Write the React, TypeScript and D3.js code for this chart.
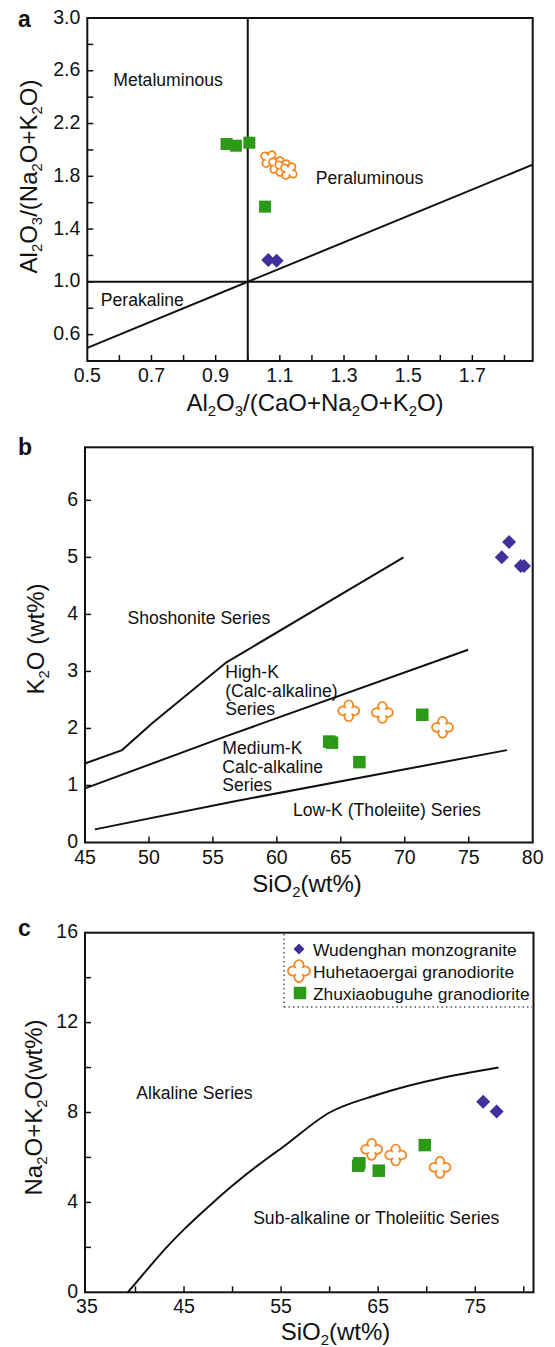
import React from "react";
import * as d3 from "d3";

const FONT = "'Liberation Sans', Arial, Helvetica, sans-serif";
const BLUE = "#41309c";
const ORANGE = "#f7861f";
const GREEN = "#2d9a17";

// ---- panel a : A/CNK vs A/NK ----
const aXTicks = [0.6, 0.7, 0.8, 0.9, 1.0, 1.1, 1.2, 1.3, 1.4, 1.5, 1.6, 1.7, 1.8];
const aXLabels = [0.5, 0.7, 0.9, 1.1, 1.3, 1.5, 1.7];
const aYTicks = [0.6, 0.8, 1.0, 1.2, 1.4, 1.6, 1.8, 2.0, 2.2, 2.4, 2.6, 2.8];
const aYLabels = [0.6, 1.0, 1.4, 1.8, 2.2, 2.6, 3.0];
const aBoundaries = [
  [[0.5, 0.5], [1.888, 1.888]],
  [[1.0, 0.4], [1.0, 3.0]],
  [[0.5, 1.0], [1.888, 1.0]],
];
const aWudenghan = [[1.064, 1.166], [1.09, 1.16]];
const aHuhetaoergai = [[1.066, 1.931], [1.091, 1.886], [1.11, 1.863], [1.128, 1.84]];
const aZhuxiao = [[0.934, 2.045], [0.963, 2.032], [1.005, 2.055], [1.054, 1.57]];
const aRegionLabels = [
  { text: "Metaluminous", x: 0.581, y: 2.485 },
  { text: "Peraluminous", x: 1.212, y: 1.742 },
  { text: "Perakaline", x: 0.542, y: 0.817 },
];

// ---- panel b : SiO2 vs K2O ----
const bXTicks = [50, 55, 60, 65, 70, 75];
const bXLabels = [45, 50, 55, 60, 65, 70, 75, 80];
const bYTicks = [1, 2, 3, 4, 5, 6];
const bYLabels = [0, 1, 2, 3, 4, 5, 6];
const bBoundaries = [
  [[45.05, 1.39], [47.9, 1.62], [50.25, 2.09], [56.06, 3.16], [69.9, 5.0]],
  [[45.0, 0.95], [56.0, 1.86], [74.95, 3.38]],
  [[45.77, 0.23], [56.62, 0.72], [77.99, 1.62]],
];
const bWudenghan = [[78.15, 5.27], [77.58, 5.0], [79.07, 4.85], [79.32, 4.85]];
const bHuhetaoergai = [[65.62, 2.31], [68.25, 2.28], [72.95, 2.02]];
const bZhuxiao = [[64.09, 1.77], [64.31, 1.75], [66.45, 1.41], [71.37, 2.24]];
const bRegionLabels = [
  { lines: ["Shoshonite Series"], x: 48.32, y: 3.83 },
  { lines: ["High-K", "(Calc-alkaline)", "Series"], x: 55.96, y: 2.88 },
  { lines: ["Medium-K", "Calc-alkaline", "Series"], x: 55.73, y: 1.55 },
  { lines: ["Low-K (Tholeiite) Series"], x: 61.26, y: 0.465 },
];

// ---- panel c : SiO2 vs Na2O+K2O ----
const cXTicks = [40, 45, 50, 55, 60, 65, 70, 75, 80];
const cXLabels = [35, 45, 55, 65, 75];
const cYTicks = [2, 4, 6, 8, 10, 12, 14];
const cYLabels = [0, 4, 8, 12, 16];
const cBoundary = [
  [39.2, 0], [40, 0.4], [43.2, 2], [45, 2.8], [48, 4], [50, 4.75],
  [53.7, 6], [55, 6.4], [60, 8], [65, 8.8], [77.4, 10],
];
const cWudenghan = [[75.82, 8.48], [77.2, 8.04]];
const cHuhetaoergai = [[64.33, 6.36], [66.81, 6.11], [71.37, 5.56]];
const cZhuxiao = [[62.94, 5.63], [63.06, 5.74], [65.06, 5.41], [69.8, 6.55]];
const cRegionLabels = [
  { text: "Alkaline Series", x: 40.08, y: 8.59 },
  { text: "Sub-alkaline or Tholeiitic Series", x: 52.12, y: 3.03 },
];
const legendNames = ["Wudenghan monzogranite", "Huhetaoergai granodiorite", "Zhuxiaobuguhe granodiorite"];

const aX = d3.scaleLinear().domain([0.5, 1.888]).range([87.3, 532.7]);
const aY = d3.scaleLinear().domain([0.4, 3.0]).range([361, 18]);
const bX = d3.scaleLinear().domain([45, 80]).range([85, 532.7]);
const bY = d3.scaleLinear().domain([0, 6.93]).range([842.5, 447.3]);
const cX = d3.scaleLinear().domain([34.8, 81]).range([85, 533.5]);
const cY = d3.scaleLinear().domain([0, 16]).range([1292.3, 932.7]);

// four-armed cross glyph: one arm, turned four times
const arm = [[-3, -3], [-6, -5], [-3.8, -10.5], [0, -10.5], [3.8, -10.5], [6, -5], [3, -3]];
const turn = (p, k) => {
  let [x, y] = p;
  for (let i = 0; i < k; i++) [x, y] = [-y, x];
  return `${x},${y}`;
};
const crossPath = (() => {
  let d = `M${turn(arm[0], 0)}`;
  for (let k = 0; k < 4; k++) {
    d += `C${turn(arm[1], k)} ${turn(arm[2], k)} ${turn(arm[3], k)}`;
    d += `C${turn(arm[4], k)} ${turn(arm[5], k)} ${turn(arm[6], k)}`;
  }
  return d + "Z";
})();

const Diamond = ({ x, y, s = 7 }) => (
  <path d={`M${x},${y - s}L${x + s},${y}L${x},${y + s}L${x - s},${y}Z`} fill={BLUE} />
);
const Square = ({ x, y, s = 12.5 }) => (
  <rect x={x - s / 2} y={y - s / 2} width={s} height={s} fill={GREEN} />
);
const Cross = ({ x, y, rot = 0, k = 1 }) => (
  <path d={crossPath} transform={`translate(${x},${y}) rotate(${rot}) scale(${k})`}
    fill="white" stroke={ORANGE} strokeWidth={1.7 / k} />
);

// digits become subscripts
function Formula({ text, size }) {
  const parts = text.split(/(\d)/).filter(Boolean);
  const shift = size * 0.22;
  let down = false;
  return (
    <>
      {parts.map((p, i) => {
        if (/\d/.test(p)) {
          down = true;
          return <tspan key={i} dy={shift} fontSize={size * 0.62}>{p}</tspan>;
        }
        const dy = down ? -shift : 0;
        down = false;
        return <tspan key={i} dy={dy}>{p}</tspan>;
      })}
    </>
  );
}

function Frame({ x, y, xTicks, xLabels, yTicks, yLabels, fmt, xTitle, yTitle, xTitlePos, yTitlePos, tag, tagY }) {
  const [x0, x1] = x.range();
  const [y0, y1] = y.range();
  return (
    <g fontFamily={FONT}>
      <rect x={x0} y={y1} width={x1 - x0} height={y0 - y1} fill="none" stroke="#111" strokeWidth={2} />
      {xTicks.map((t) => (
        <line key={"xt" + t} x1={x(t)} x2={x(t)} y1={y0} y2={y0 - 6} stroke="#111" strokeWidth={1.5} />
      ))}
      {yTicks.map((t) => (
        <line key={"yt" + t} x1={x0} x2={x0 + 6} y1={y(t)} y2={y(t)} stroke="#111" strokeWidth={1.5} />
      ))}
      {xLabels.map((t) => (
        <text key={"xl" + t} x={x(t)} y={y0 + 21} fontSize={19.5} textAnchor="middle" fill="#111">{fmt(t)}</text>
      ))}
      {yLabels.map((t) => (
        <text key={"yl" + t} x={x0 - 7} y={y(t) + 5.5} fontSize={19.5} textAnchor="end" fill="#111">{fmt(t)}</text>
      ))}
      <text x={xTitlePos[0]} y={xTitlePos[1]} fontSize={24} textAnchor="middle" fill="#111">
        <Formula text={xTitle} size={24} />
      </text>
      <text transform={`translate(${yTitlePos[0]},${yTitlePos[1]}) rotate(-90)`} fontSize={24} textAnchor="middle" fill="#111">
        <Formula text={yTitle} size={24} />
      </text>
      <text x={18} y={tagY} fontSize={23} fontWeight="bold" fill="#111">{tag}</text>
    </g>
  );
}

export default function App() {
  const lineA = d3.line().x((d) => aX(d[0])).y((d) => aY(d[1]));
  const lineB = d3.line().x((d) => bX(d[0])).y((d) => bY(d[1]));
  const lineC = d3.line().x((d) => cX(d[0])).y((d) => cY(d[1])).curve(d3.curveMonotoneX);
  const f1 = d3.format(".1f");
  const f0 = d3.format("d");
  const lgX = 299, lgY = [949, 971, 993];

  return (
    <svg width={555} height={1347} style={{ position: "absolute", left: 0, top: 0, background: "white" }}>
      {/* panel a */}
      <g fill="none" stroke="#111" strokeWidth={2}>
        {aBoundaries.map((b, i) => <path key={i} d={lineA(b)} />)}
      </g>
      {aRegionLabels.map((l) => (
        <text key={l.text} x={aX(l.x)} y={aY(l.y)} fontFamily={FONT} fontSize={17.6} fill="#111">{l.text}</text>
      ))}
      {aZhuxiao.map((d, i) => <Square key={i} x={aX(d[0])} y={aY(d[1])} s={12} />)}
      {aHuhetaoergai.map((d, i) => <Cross key={i} x={aX(d[0])} y={aY(d[1])} rot={35} k={0.85} />)}
      {aWudenghan.map((d, i) => <Diamond key={i} x={aX(d[0])} y={aY(d[1])} />)}
      <Frame x={aX} y={aY} xTicks={aXTicks} xLabels={aXLabels} yTicks={aYTicks} yLabels={aYLabels} fmt={f1}
        xTitle="Al2O3/(CaO+Na2O+K2O)" yTitle="Al2O3/(Na2O+K2O)" xTitlePos={[315, 411]} yTitlePos={[37, 176.5]}
        tag="a" tagY={27} />

      {/* panel b */}
      <g fill="none" stroke="#111" strokeWidth={2}>
        {bBoundaries.map((b, i) => <path key={i} d={lineB(b)} />)}
      </g>
      {bRegionLabels.map((l) => (
        <text key={l.lines[0]} fontFamily={FONT} fontSize={17.6} fill="#111">
          {l.lines.map((s, j) => (
            <tspan key={j} x={bX(l.x)} y={bY(l.y) + j * 18.4}>{s}</tspan>
          ))}
        </text>
      ))}
      {bZhuxiao.map((d, i) => <Square key={i} x={bX(d[0])} y={bY(d[1])} />)}
      {bHuhetaoergai.map((d, i) => <Cross key={i} x={bX(d[0])} y={bY(d[1])} />)}
      {bWudenghan.map((d, i) => <Diamond key={i} x={bX(d[0])} y={bY(d[1])} />)}
      <Frame x={bX} y={bY} xTicks={bXTicks} xLabels={bXLabels} yTicks={bYTicks} yLabels={bYLabels} fmt={f0}
        xTitle="SiO2(wt%)" yTitle="K2O (wt%)" xTitlePos={[307, 892]} yTitlePos={[44, 639]}
        tag="b" tagY={455} />

      {/* panel c */}
      <path d={lineC(cBoundary)} fill="none" stroke="#111" strokeWidth={2} />
      {cRegionLabels.map((l) => (
        <text key={l.text} x={cX(l.x)} y={cY(l.y)} fontFamily={FONT} fontSize={17.6} fill="#111">{l.text}</text>
      ))}
      {cZhuxiao.map((d, i) => <Square key={i} x={cX(d[0])} y={cY(d[1])} />)}
      {cHuhetaoergai.map((d, i) => <Cross key={i} x={cX(d[0])} y={cY(d[1])} />)}
      {cWudenghan.map((d, i) => <Diamond key={i} x={cX(d[0])} y={cY(d[1])} />)}

      {/* legend */}
      <g stroke="#555" strokeWidth={1.5} strokeDasharray="1.5,3">
        <line x1={284} x2={284} y1={934} y2={1007} />
        <line x1={284} x2={532} y1={1007} y2={1007} />
      </g>
      <Diamond x={lgX} y={lgY[0]} s={5.5} />
      <Cross x={lgX} y={lgY[1]} k={1.05} />
      <Square x={lgX + 1} y={lgY[2]} />
      {legendNames.map((n, i) => (
        <text key={n} x={313} y={lgY[i] + 7} fontFamily={FONT} fontSize={17.4} fill="#111">{n}</text>
      ))}
      <Frame x={cX} y={cY} xTicks={cXTicks} xLabels={cXLabels} yTicks={cYTicks} yLabels={cYLabels} fmt={f0}
        xTitle="SiO2(wt%)" yTitle="Na2O+K2O(wt%)" xTitlePos={[335.5, 1340]} yTitlePos={[42, 1107.5]}
        tag="c" tagY={936} />
    </svg>
  );
}
